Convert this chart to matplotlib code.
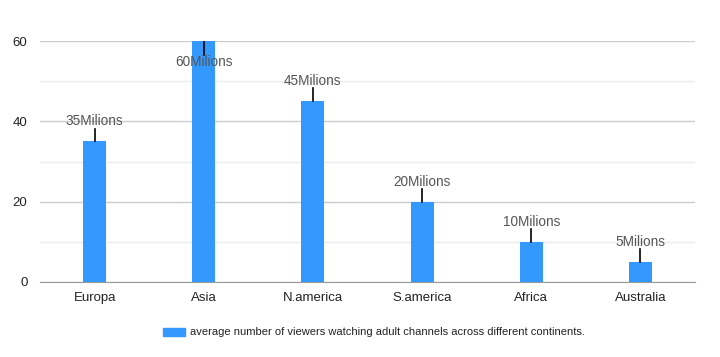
import matplotlib.pyplot as plt

plt.rcParams['font.family'] = ['Liberation Sans', 'DejaVu Sans']

continents = ['Europa', 'Asia', 'N.america', 'S.america', 'Africa', 'Australia']
viewers = [35, 60, 45, 20, 10, 5]
labels = ['35Milions', '60Milions', '45Milions', '20Milions', '10Milions', '5Milions']
legend_text = 'average number of viewers watching adult channels across different continents.'

bar_color = '#3399ff'

fig = plt.figure(figsize=(7.2, 3.57), dpi=100)
ax = fig.add_axes([40 / 720, 1 - 282 / 357, 655 / 720, 241 / 357])

x = range(len(continents))
ax.bar(x, viewers, width=0.21, color=bar_color, zorder=3)

# стрілки-анотації над стовпчиками
for i, (v, lab) in enumerate(zip(viewers, labels)):
    if v >= 60:
        ax.plot([i, i], [v, v - 3.5], color='black', lw=1.2, zorder=4)
        ax.text(i, v - 5.3, lab, ha='center', va='center', fontsize=9.8, color='#555555', zorder=5)
    else:
        ax.plot([i, i], [v, v + 3.2], color='black', lw=1.2, zorder=4)
        ax.text(i, v + 5, lab, ha='center', va='center', fontsize=9.8, color='#555555', zorder=5)

ax.set_xlim(-0.5, 5.5)
ax.set_ylim(0, 60)
ax.set_yticks([0, 20, 40, 60])
ax.set_yticks([10, 30, 50], minor=True)
ax.grid(axis='y', which='major', color='#cccccc', lw=1, zorder=0)
ax.grid(axis='y', which='minor', color='#ebebeb', lw=1, zorder=0)
ax.set_xticks(list(x))
ax.set_xticklabels(continents)
ax.tick_params(axis='both', which='both', length=0, labelsize=9.5, colors='#222222')
ax.tick_params(axis='y', pad=9)
ax.tick_params(axis='x', pad=7)
for s in ['top', 'right', 'left']:
    ax.spines[s].set_visible(False)
ax.spines['bottom'].set_color('#999999')

# легенда
fig.patches.append(plt.Rectangle((163 / 720, 1 - 336 / 357), 22 / 720, 8 / 357,
                                 transform=fig.transFigure, color=bar_color))
fig.text(190 / 720, 1 - 332 / 357, legend_text, ha='left', va='center', fontsize=8, color='#222222')

fig.savefig('out.png', dpi=100, facecolor='white')
